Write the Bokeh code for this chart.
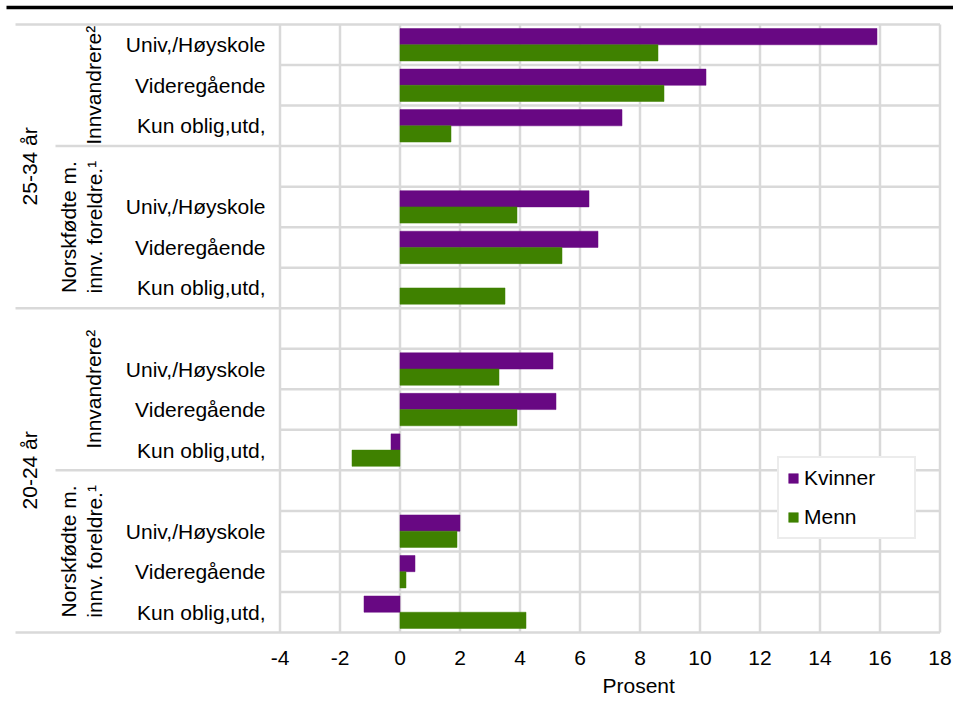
import math
from bokeh.plotting import figure
from bokeh.models import Range1d, FixedTicker, Legend, LegendItem, Title
from bokeh.core.properties import value
from bokeh.embed import file_html
from bokeh.resources import INLINE

# ---------------- data ----------------
ages = ["25-34 år", "20-24 år"]
groups = ["Innvandrere²", "Norskfødte m.\ninnv. foreldre.¹"]
levels = ["Univ,/Høyskole", "Videregående", "Kun oblig,utd,"]
# order: age -> group -> level (top to bottom)
kvinner = [15.9, 10.2, 7.4,
           6.3, 6.6, float("nan"),
           5.1, 5.2, -0.3,
           2.0, 0.5, -1.2]
menn = [8.6, 8.8, 1.7,
        3.9, 5.4, 3.5,
        3.3, 3.9, -1.6,
        1.9, 0.2, 4.2]
x_ticks = [-4, -2, 0, 2, 4, 6, 8, 10, 12, 14, 16, 18]
x_tick_labels = ["-4", "-2", "0", "2", "4", "6", "8", "10", "12", "14", "16", "18"]
series_names = ["Kvinner", "Menn"]
x_title = "Prosent"

# ---------------- styling ----------------
PURPLE = "#680883"
GREEN = "#3F8100"
GRID = "#D9D9D9"
FONT = "Liberation Sans"
FS = "21px"
W, H = 953, 701

# page-pixel helpers (layout only)
PX = 660.0 / 22.0          # px per unit on x
ROW = 608.0 / 15.0          # px per row
def dx(page_x):
    return -4 + (page_x - 279.5) / PX

# ---------------- row structure ----------------
rows = []   # (age_idx, group_idx, level_idx or None, value_idx or None)
vi = 0
for a in range(len(ages)):
    for g in range(len(groups)):
        if not (a == 0 and g == 0):
            rows.append((a, g, None, None))
        for l in range(len(levels)):
            rows.append((a, g, l, vi))
            vi += 1
n = len(rows)
yc = [n - i - 0.5 for i in range(n)]

# frame: page x 0..953 ; page y 0..634 ; rows occupy page y 24..632
x0, x1 = dx(0), dx(953)
y_top = n + 24.0 / ROW
y_bot = -2.0 / ROW

p = figure(width=W, height=H, x_range=Range1d(x0, x1), y_range=Range1d(y_bot, y_top),
           output_backend="svg", toolbar_location=None, y_axis_location=None,
           min_border_left=0, min_border_right=0, min_border_top=0, min_border_bottom=67)
p.outline_line_color = None
p.xgrid.grid_line_color = None
p.ygrid.grid_line_color = None
p.background_fill_color = "white"
p.border_fill_color = "white"

# vertical gridlines
p.segment(x0=x_ticks, y0=[0] * len(x_ticks), x1=x_ticks, y1=[n] * len(x_ticks),
          line_color=GRID, line_width=2.5)

# horizontal row lines
hx0, hy = [], []
for k in range(0, n + 1):
    if k == 0 or k == n:
        left = dx(15)
    else:
        above, below = rows[k - 1], rows[k]
        if above[0] != below[0]:
            left = dx(15)
        elif above[1] != below[1]:
            left = dx(55)
        else:
            left = -4
    hx0.append(left)
    hy.append(n - k)
p.segment(x0=hx0, y0=hy, x1=[18] * len(hy), y1=hy, line_color=GRID, line_width=2.5)

# top black rule
p.segment(x0=[dx(6)], y0=[n + 17.0 / ROW], x1=[x1], y1=[n + 17.0 / ROW],
          line_color="black", line_width=3.5)

# bars
ky, kv, my, mv = [], [], [], []
for i, r in enumerate(rows):
    if r[3] is None:
        continue
    k = kvinner[r[3]]
    m = menn[r[3]]
    if not math.isnan(k):
        ky.append(yc[i] + 0.2); kv.append(k)
    if not math.isnan(m):
        my.append(yc[i] - 0.2); mv.append(m)
rk = p.hbar(y=ky, left=0, right=kv, height=0.4, fill_color=PURPLE, line_color=PURPLE, line_width=0.5)
rm = p.hbar(y=my, left=0, right=mv, height=0.4, fill_color=GREEN, line_color=GREEN, line_width=0.5)

# level labels
lx, ly, lt = [], [], []
for i, r in enumerate(rows):
    if r[2] is not None:
        lx.append(dx(265)); ly.append(yc[i]); lt.append(levels[r[2]])
p.text(x=lx, y=ly, text=lt, text_align="right", text_baseline="middle",
       text_font=value(FONT), text_font_size=FS, text_color="black")

# group labels (rotated)
gx, gy, gt = [], [], []
for a in range(len(ages)):
    for g in range(len(groups)):
        idx = [i for i, r in enumerate(rows) if r[0] == a and r[1] == g]
        gy.append(sum(yc[i] for i in idx) / len(idx))
        gt.append(groups[g])
        gx.append(dx(93) if "\n" not in groups[g] else dx(81))
p.text(x=gx, y=gy, text=gt, angle=math.pi / 2, text_align="center", text_baseline="middle",
       text_font=value(FONT), text_font_size=FS, text_color="black", text_line_height=1.15)

# age labels (rotated)
ax_, ay_, at_ = [], [], []
for a in range(len(ages)):
    idx = [i for i, r in enumerate(rows) if r[0] == a]
    ay_.append(sum(yc[i] for i in idx) / len(idx))
    at_.append(ages[a])
    ax_.append(dx(29))
p.text(x=ax_, y=ay_, text=at_, angle=math.pi / 2, text_align="center", text_baseline="middle",
       text_font=value(FONT), text_font_size=FS, text_color="black")

# x axis
xa = p.xaxis[0]
xa.ticker = FixedTicker(ticks=x_ticks)
xa.major_label_overrides = {t: s for t, s in zip(x_ticks, x_tick_labels)}
xa.axis_line_color = None
xa.major_tick_line_color = None
xa.minor_tick_line_color = None
xa.major_tick_out = 0
xa.major_tick_in = 0
xa.major_label_standoff = 16
xa.major_label_text_font = FONT
xa.major_label_text_font_size = FS
xa.major_label_text_color = "black"

# axis title, positioned under the plot area like the original
t = Title(text=x_title, align="left", offset=602, standoff=9,
          text_font=FONT, text_font_size=FS, text_font_style="normal", text_color="black")
p.add_layout(t, "below")

legend = Legend(items=[LegendItem(label=series_names[0], renderers=[rk]),
                       LegendItem(label=series_names[1], renderers=[rm])],
                location=(777, 95), orientation="vertical",
                label_text_font=FONT, label_text_font_size=FS, label_text_color="black",
                glyph_width=12, glyph_height=12, label_height=20, label_width=102,
                label_standoff=5, spacing=15, padding=8, margin=0,
                border_line_color=GRID, border_line_width=2.5,
                background_fill_color="white", background_fill_alpha=1.0)
p.add_layout(legend)

open("out.html", "w").write(file_html(p, INLINE))
